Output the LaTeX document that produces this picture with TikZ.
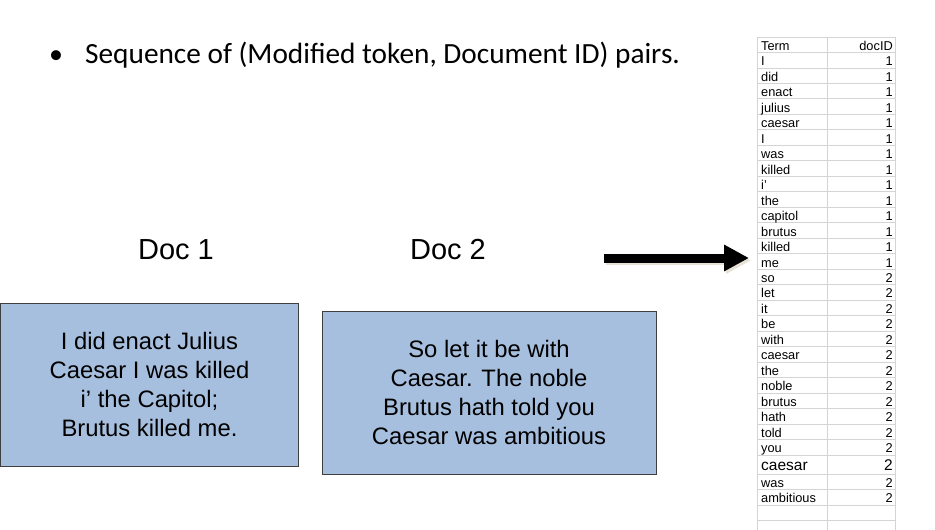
\documentclass[tikz,border=0pt]{standalone}
\usepackage{fontspec}
\setmainfont{Liberation Sans}
\newfontfamily\calibri{Carlito}
\usetikzlibrary{arrows.meta}
\definecolor{boxfill}{HTML}{A7BFDE}
\definecolor{boxline}{HTML}{3F3F3F}
\definecolor{gridc}{HTML}{D4D4D4}
\definecolor{shadowc}{HTML}{E6E2D6}
\begin{document}
\begin{tikzpicture}[x=1pt,y=-1pt,
  docbox/.style={draw=boxline,line width=0.9pt,fill=boxfill,inner sep=0pt,align=center,
    font=\fontsize{23.8}{28.7}\selectfont},
  doclabel/.style={inner sep=0pt,anchor=base,font=\fontsize{29}{32}\selectfont},
  termtxt/.style={inner sep=0pt,anchor=base west,font=\fontsize{12.8}{14}\selectfont},
  idtxt/.style={inner sep=0pt,anchor=base east,font=\fontsize{12.8}{14}\selectfont}]
\useasboundingbox (0,0) rectangle (935,530);
\fill[white] (0,0) rectangle (935,530);
% title
\node[inner sep=0pt,anchor=base] (bullet) at (56,63) {\calibri\fontsize{28}{30}\selectfont •};
\node[inner sep=0pt,anchor=base west] (title) at (85,63) {\calibri\fontsize{29.3}{32}\selectfont Sequence of (Modified token, Document ID) pairs.};
% doc labels
\node[doclabel] (d1) at (176,259) {Doc 1};
\node[doclabel] (d2) at (448,259) {Doc 2};
% boxes
\node[docbox,minimum width=298pt,minimum height=163pt] (b1) at (149.5,384.5)
  {I did enact Julius\\Caesar I was killed\\i’ the Capitol;\\Brutus killed me.};
\node[docbox,minimum width=334pt,minimum height=163pt] (b2) at (489,392.5)
  {So let it be with\\Caesar. The noble\\Brutus hath told you\\Caesar was ambitious};
% arrow
\coordinate (as) at (604,258);
\coordinate (ae) at (749,258);
\coordinate (ass) at (606,260.5);
\coordinate (aes) at (751,260.5);
\draw[shadowc,line width=9pt,-{Triangle[length=25pt,width=25pt]}] (ass) -- (aes);
\draw[black,line width=9pt,-{Triangle[length=25pt,width=25pt]}] (as) -- (ae);
% table grid
\foreach \y in {37,52.5,68,83.4,98.9,114.4,129.9,145.4,160.8,176.3,191.8,207.3,222.8,238.2,253.7,269.2,284.7,300.2,315.6,331.1,346.6,362.1,377.6,393,408.5,424,439.5,455,474,489.5,505,520.5}
  \draw[gridc,line width=0.9pt] (757,\y) -- (895,\y);
\foreach \x in {757,827,895}
  \draw[gridc,line width=0.9pt] (\x,37) -- (\x,530);
% table text
\node[termtxt] (th) at (761,50.3) {Term};
\node[idtxt] (ih) at (893,50.3) {docID};
\foreach \t/\d [count=\i] in {I/1,did/1,enact/1,julius/1,caesar/1,I/1,was/1,killed/1,i'/1,the/1,capitol/1,brutus/1,killed/1,me/1,so/2,let/2,it/2,be/2,with/2,caesar/2,the/2,noble/2,brutus/2,hath/2,told/2,you/2}{
  \node[termtxt] (t\i) at (761,{50.3+15.48*\i}) {\t};
  \node[idtxt] (n\i) at (893,{50.3+15.48*\i}) {\d};
}
\node[termtxt,font=\fontsize{15.5}{17}\selectfont] (t27) at (761,470.5) {caesar};
\node[idtxt,font=\fontsize{15.5}{17}\selectfont] (n27) at (893,470.5) {2};
\node[termtxt] (t28) at (761,487) {was};
\node[idtxt] (n28) at (893,487) {2};
\node[termtxt] (t29) at (761,502.5) {ambitious};
\node[idtxt] (n29) at (893,502.5) {2};
\end{tikzpicture}
\end{document}
